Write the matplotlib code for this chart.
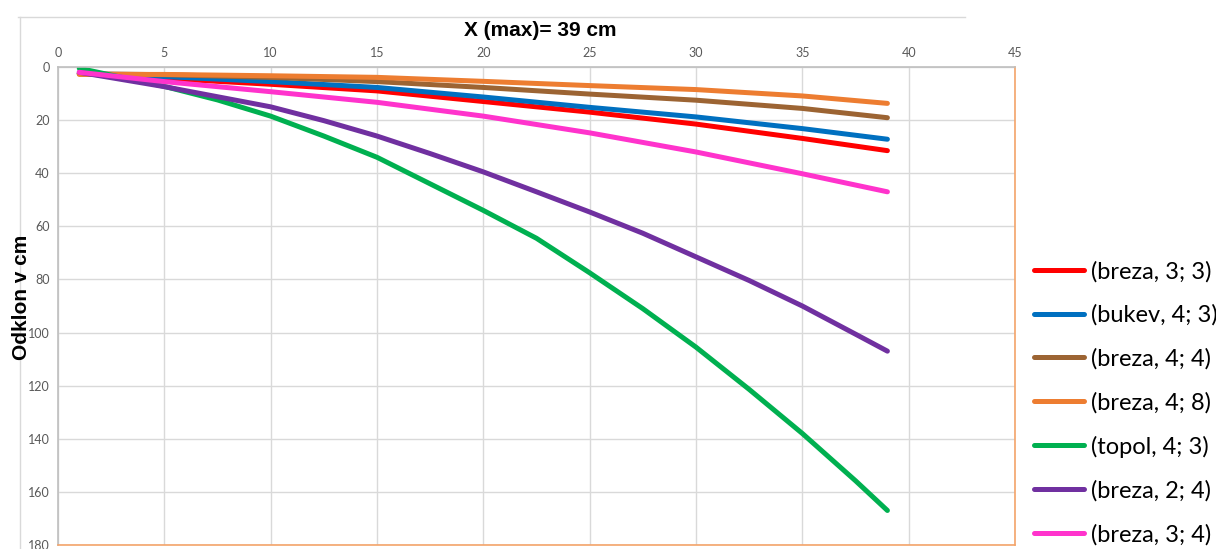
import matplotlib
matplotlib.use("Agg")
import matplotlib.pyplot as plt
from matplotlib.lines import Line2D

# distance along the branch (cm)
x_cm = [1, 5, 10, 15, 20, 25, 30, 35, 39]
x_fine = [1, 5, 7.5, 10, 12.5, 15, 17.5, 20, 22.5, 25, 27.5, 30, 32.5, 35, 37.5, 39]

# deflection values (cm)
breza_3_3 = [2.5, 4.3, 6.5, 9.0, 13.0, 17.0, 21.5, 26.9, 31.5]
bukev_4_3 = [2.5, 3.6, 5.5, 7.7, 11.3, 15.2, 18.8, 23.2, 27.2]
breza_4_4 = [2.5, 2.9, 3.9, 5.5, 7.7, 10.2, 12.5, 15.6, 19.1]
breza_4_8 = [2.8, 2.8, 3.3, 3.9, 5.4, 7.0, 8.5, 10.9, 13.7]
breza_3_4 = [2.0, 5.5, 9.3, 13.3, 18.5, 24.8, 32.0, 40.2, 47.0]
topol_4_3 = [0.5, 7.3, 12.4, 18.5, 26.0, 34.0, 44.0, 54.0, 64.5, 77.5, 91.0,
             105.5, 121.4, 138.0, 155.8, 167.0]
breza_2_4 = [2.0, 7.4, 11.2, 15.0, 20.2, 26.0, 32.6, 39.5, 47.0, 54.6, 62.6,
             71.5, 80.4, 90.0, 100.6, 107.0]

series = [
    ("(breza, 3; 3)", x_cm, breza_3_3, "#FF0000"),
    ("(bukev, 4; 3)", x_cm, bukev_4_3, "#0070C0"),
    ("(breza, 4; 4)", x_cm, breza_4_4, "#9C6433"),
    ("(breza, 4; 8)", x_cm, breza_4_8, "#ED7D31"),
    ("(topol, 4; 3)", x_fine, topol_4_3, "#00B050"),
    ("(breza, 2; 4)", x_fine, breza_2_4, "#7030A0"),
    ("(breza, 3; 4)", x_cm, breza_3_4, "#FF33CC"),
]

fig = plt.figure(figsize=(12.16, 5.49), dpi=100)
ax = fig.add_axes([58/1216, 1-545/549, (1015-58)/1216, (545-67)/549])

for label, xs, vals, col in series:
    ax.plot(xs, vals, color=col, lw=3.6, solid_capstyle="round",
            solid_joinstyle="round", label=label)

ax.set_xlim(0, 45)
ax.set_ylim(180, 0)
ax.set_xticks(range(0, 46, 5))
ax.set_yticks(range(0, 181, 20))
ax.xaxis.tick_top()
ax.tick_params(length=0, labelsize=9, labelcolor="#595959", pad=6)
for t in ax.get_xticklabels() + ax.get_yticklabels():
    t.set_family("Lato")
ax.grid(True, color="#D9D9D9", lw=1)
ax.set_axisbelow(True)

ax.spines["left"].set_color("#BFBFBF")
ax.spines["top"].set_color("#BFBFBF")
ax.spines["right"].set_color("#F4A46A")
ax.spines["bottom"].set_color("#F4A46A")
for s in ax.spines.values():
    s.set_linewidth(1.2)

fig.text(540/1216, 1-31/549, "X (max)= 39 cm", ha="center", va="center",
         fontsize=15, fontweight="bold", family="Liberation Sans")
fig.text(22/1216, 1-297/549, "Odklon v cm", ha="center", va="center",
         rotation=90, fontsize=15, fontweight="bold", family="Liberation Sans")

# outer chart border
fig.add_artist(Line2D([18/1216, 965/1216], [1-17/549, 1-17/549], color="#D9D9D9", lw=1))
fig.add_artist(Line2D([20/1216, 20/1216], [1-17/549, 0], color="#D9D9D9", lw=1))

leg = fig.legend(loc="center left", bbox_to_anchor=(1034/1216, 1-403/549),
                 frameon=False, prop={"family": "Lato", "size": 17},
                 handlelength=2.1, handletextpad=0.3, labelspacing=0.94,
                 borderpad=0, borderaxespad=0)

fig.savefig("out.png", dpi=100)
